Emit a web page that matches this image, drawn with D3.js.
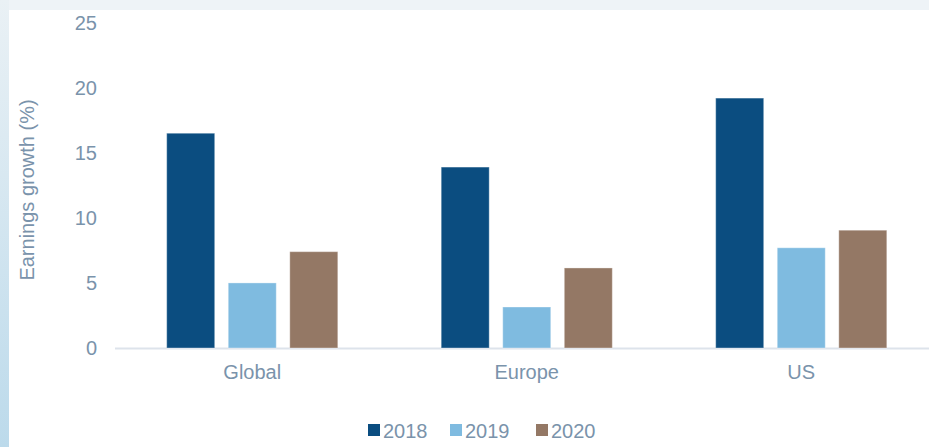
<!DOCTYPE html>
<html><head><meta charset="utf-8">
<script src="https://cdn.jsdelivr.net/npm/d3@7"></script>
<style>html,body{margin:0;padding:0;background:#fff;}svg{display:block;}</style>
</head><body>
<svg id="chart" width="929" height="447"></svg>
<script>
const categories = ["Global", "Europe", "US"];
const seriesNames = ["2018", "2019", "2020"];
const values2018 = [16.5, 13.9, 19.2];
const values2019 = [5.0, 3.15, 7.7];
const values2020 = [7.4, 6.15, 9.05];
const yTicks = [0, 5, 10, 15, 20, 25];
const colors = ["#0b4d80", "#7fbbe0", "#947865"];

const seriesValues = [values2018, values2019, values2020];
const svg = d3.select("#chart");
const W = 929, H = 447;

// background
const defs = svg.append("defs");
const lg = defs.append("linearGradient").attr("id","side").attr("x1",0).attr("y1",0).attr("x2",0).attr("y2",1);
lg.append("stop").attr("offset","0%").attr("stop-color","#eaf1f5");
lg.append("stop").attr("offset","100%").attr("stop-color","#bcdaeb");
svg.append("rect").attr("x",0).attr("y",0).attr("width",W).attr("height",H).attr("fill","#eef3f7");
svg.append("rect").attr("x",0).attr("y",0).attr("width",9).attr("height",H).attr("fill","url(#side)");
svg.append("rect").attr("x",9).attr("y",10).attr("width",W-9).attr("height",H-10).attr("fill","#ffffff");

const y = d3.scaleLinear().domain([0, 25]).range([348, 22.6]);
const x0 = d3.scaleBand().domain(categories).range([115, 938.5]).paddingInner(0).paddingOuter(0);
const x1 = d3.scaleBand().domain(seriesNames).range([0, x0.bandwidth()]).paddingInner(0.22).paddingOuter(0.84);

const textColor = "#7a93ab";
const font = "'Liberation Sans', Arial, sans-serif";

// y axis
const yAxis = d3.axisLeft(y).tickValues(yTicks).tickSize(0).tickPadding(0);
const gy = svg.append("g").attr("transform","translate(97,0)").call(yAxis);
gy.select(".domain").remove();
gy.selectAll("text").attr("fill",textColor).attr("font-size","20px").attr("font-family",font);

// baseline
svg.append("line").attr("x1",115).attr("x2",W).attr("y1",y(0)+0.5).attr("y2",y(0)+0.5)
  .attr("stroke","#dde3eb").attr("stroke-width",2);

// bars
const groups = svg.append("g").selectAll("g").data(categories).join("g")
  .attr("transform", d => `translate(${x0(d)},0)`);
groups.selectAll("rect").data((c, ci) => seriesNames.map((s, si) => ({s, si, v: seriesValues[si][ci]})))
  .join("rect")
  .attr("x", d => x1(d.s))
  .attr("width", x1.bandwidth())
  .attr("y", d => y(d.v))
  .attr("height", d => y(0) - y(d.v))
  .attr("fill", d => colors[d.si])
  .attr("stroke", "rgba(255,255,255,0.35)").attr("stroke-width", 1);

// x axis labels
const xAxis = d3.axisBottom(x0).tickSize(0).tickPadding(0);
const gx = svg.append("g").attr("transform",`translate(0,${y(0)+17})`).call(xAxis);
gx.select(".domain").remove();
gx.selectAll("text").attr("fill",textColor).attr("font-size","20px").attr("font-family",font);

// y title
svg.append("text").attr("transform","translate(34,190) rotate(-90)")
  .attr("text-anchor","middle").attr("fill",textColor).attr("font-size","20px").attr("font-family",font)
  .text("Earnings growth (%)");

// legend
const legendX = [368, 450, 536];
const lgd = svg.append("g").selectAll("g").data(seriesNames).join("g")
  .attr("transform", (d,i) => `translate(${legendX[i]},424)`);
lgd.append("rect").attr("width",12).attr("height",12).attr("fill",(d,i)=>colors[i]);
lgd.append("text").attr("x",15).attr("y",14).attr("fill",textColor).attr("font-size","20px").attr("font-family",font).text(d=>d);
</script>
</body></html>
